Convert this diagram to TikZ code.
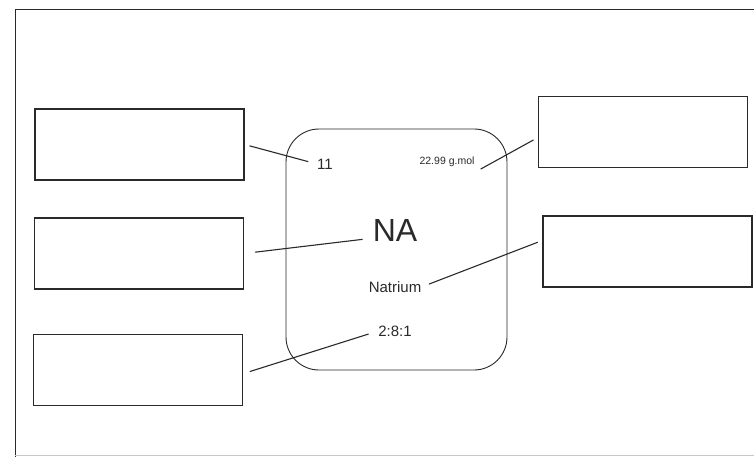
\documentclass[tikz,border=0pt]{standalone}
\usepackage{fontspec}
\setmainfont{Liberation Sans}
\usetikzlibrary{positioning}
\definecolor{Ink}{HTML}{2A2A2A}
\definecolor{Faint}{HTML}{C8C8C8}

\begin{document}
\begin{tikzpicture}[
  x=1pt,y=-1pt,
  box/.style={draw=Ink,line width=1.2pt,minimum width=209pt,minimum height=71pt,inner sep=0pt},
  tile/.style={draw=Ink,line width=0.9pt,rounded corners=33pt,minimum width=221pt,minimum height=241pt},
  lbl/.style={inner sep=0pt,text=Ink},
  lead/.style={draw=Ink,line width=1.1pt}
]
  \clip (0,0) rectangle (754,457);
  \fill[white] (0,0) rectangle (754,457);
  % frame
  \draw[Ink,line width=1pt] (15,457) -- (15,10) -- (760,10);
  \draw[Faint,line width=0.8pt] (15,455) -- (760,455);
  % element tile
  \node[tile] (tile) at (396.5,249.5) {};
  \node[lbl,font=\fontsize{15}{17}\selectfont] (num) at (325,164) {11};
  \node[lbl,font=\fontsize{10.5}{12}\selectfont] (mass) at (447,162) {22.99 g.mol};
  \node[lbl,font=\fontsize{32}{36}\selectfont] (na) at (395,230) {NA};
  \node[lbl,font=\fontsize{15}{17}\selectfont] (nat) at (395,287) {Natrium};
  \node[lbl,font=\fontsize{15}{17}\selectfont] (dist) at (395,331) {2:8:1};
  % answer boxes
  \node[box] (b1) at (139.5,144.5) {};
  \node[box] (b2) at (139,253.5) {};
  \node[box] (b3) at (138,370) {};
  \node[box] (b4) at (643,132) {};
  \node[box] (b5) at (647.5,251.5) {};
  % leaders
  \draw[lead,shorten <=5pt,shorten >=9pt] (b1.east) -- (num.west);
  \draw[lead,shorten <=11pt,shorten >=10pt] (b2.east) -- (na.200);
  \draw[lead,shorten <=7pt,shorten >=10pt] (b3.358) -- (dist.west);
  \draw[lead,shorten >=5pt] ([xshift=6pt,yshift=-2pt]mass.south east) -- (b4.183);
  \draw[lead,shorten <=8pt,shorten >=5pt] (nat.east) -- (b5.174);
\end{tikzpicture}
\end{document}
